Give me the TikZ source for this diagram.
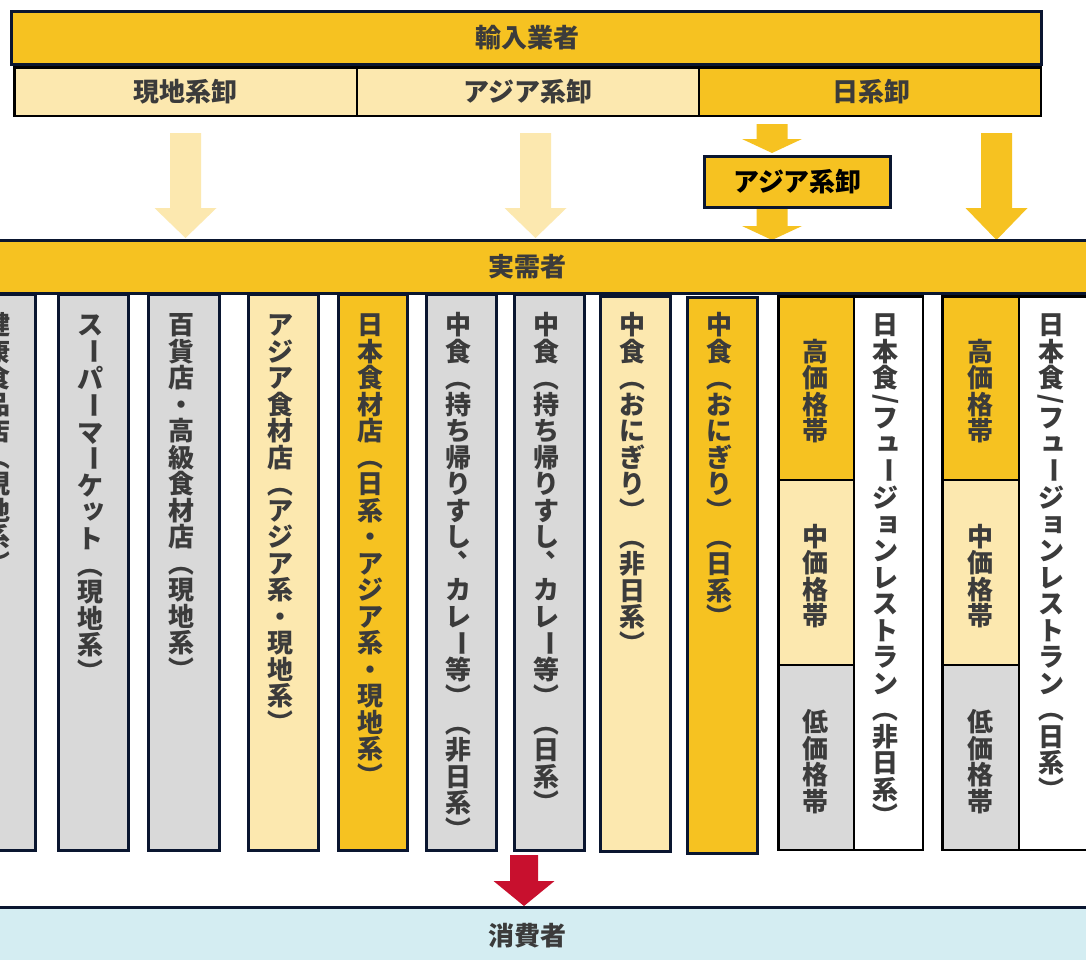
\documentclass[tikz,border=0pt]{standalone}
\usepackage{fontspec}
\usepackage{graphicx}
\newfontfamily\jp{Noto Sans CJK JP}
\usetikzlibrary{calc}
\definecolor{gold}{HTML}{F6C221}
\definecolor{lightgold}{HTML}{FCE8AF}
\definecolor{cgray}{HTML}{D9D9D9}
\definecolor{navy}{HTML}{0A1630}
\definecolor{txt}{HTML}{3B3B3B}
\definecolor{cred}{HTML}{C8102E}
\definecolor{lblue}{HTML}{D4EDF2}
\newcommand\jpf{\jp\bfseries\fontsize{26pt}{30pt}\selectfont}
\makeatletter
\newcommand\vt[1]{\vbox{\offinterlineskip\vt@a#1\relax}}
\def\vt@a#1{\ifx#1\relax\else\vt@one#1\expandafter\vt@a\fi}
\def\vt@strut{\vrule height 22.8pt depth 3.7pt width 0pt}
\def\vt@one#1{%
  \ifx#1/%
    \setbox0=\hbox to 26pt{\hss\rotatebox[origin=c]{-90}{/}\hss}\ht0=16.2pt \dp0=-2.95pt \box0\relax
  \else
    \hbox to 26pt{\vt@strut\hss\vt@g#1\hss}%
  \fi}
\def\vt@small#1{\rlap{\hskip0.1em\raisebox{0.12em}{#1}}\hskip1em\relax}
\def\vt@g#1{%
  \ifx#1ー\raisebox{0.16em}{\rotatebox[origin=c]{-90}{ー}}%
  \else\ifx#1（\rotatebox[origin=c]{-90}{（}%
  \else\ifx#1）\rotatebox[origin=c]{-90}{）}%
  \else\ifx#1、\rlap{\hskip0.45em\raisebox{0.6em}{、}}\hskip1em\relax
  \else\ifx#1ッ\vt@small{ッ}%
  \else\ifx#1ュ\vt@small{ュ}%
  \else\ifx#1ョ\vt@small{ョ}%
  \else#1\fi\fi\fi\fi\fi\fi\fi}
\makeatother
% rectangle node from corner (x1,y1) to (x2,y2)
\newcommand\rnode[6]{\node[#2, minimum width={#5-(#3)}, minimum height={#6-(#4)}] (#1) at ({(#3+#5)/2},{(#4+#6)/2}) {};}
% block arrow: name, x centre, y top, y head, y tip, shaft half, head half, colour
\newcommand\barrow[8]{%
  \coordinate (#1-top) at (#2,#3);
  \coordinate (#1-tip) at (#2,#5);
  \fill[#8] ($(#1-top)+(-#6,0)$) -- ($(#1-top)+(#6,0)$) -- (#2+#6,#4) -- (#2+#7,#4) -- (#1-tip) -- (#2-#7,#4) -- (#2-#6,#4) -- cycle;}
\begin{document}
\begin{tikzpicture}[x=1pt,y=-1pt,
  every node/.style={inner sep=0pt, outer sep=0pt},
  hbar/.style={draw=navy, line width=3pt, fill=gold},
  cell/.style={draw=black, line width=2.5pt},
  colbox/.style={draw=navy, line width=3pt},
  lbl/.style={text=txt, font=\jpf},
]
\clip (0,0) rectangle (1086,959);
\fill[white] (0,0) rectangle (1086,959);

% importer bar and wholesalers
\rnode{imp}{hbar}{11.5}{11.5}{1041.5}{64.5}
\node[lbl] (impT) at (527,38) {輸入業者};
\rnode{w1}{cell, fill=lightgold}{14.25}{67.25}{357}{115.75}
\rnode{w2}{cell, fill=lightgold}{357}{67.25}{699}{115.75}
\rnode{w3}{cell, fill=gold}{699}{67.25}{1040.75}{115.75}
\node[lbl] (w1T) at (185.5,92) {現地系卸};
\node[lbl] (w2T) at (528,92) {アジア系卸};
\node[lbl] (w3T) at (871,92) {日系卸};

% arrows to demand
\barrow{a1}{185.5}{133}{208}{238}{15.5}{31}{lightgold}
\barrow{a2}{535.5}{133}{208}{238}{15.5}{31}{lightgold}
\barrow{a3}{772}{124}{139}{153}{15.5}{30}{gold}
\rnode{asia}{draw=navy, line width=3pt, fill=gold}{704.5}{156.5}{890.5}{207.5}
\node[text=black, font=\jpf] (asiaT) at (797.5,182) {アジア系卸};
\barrow{a4}{772}{209}{226}{240}{15.5}{30}{gold}
\barrow{a5}{996.5}{133}{208}{240}{15.5}{31}{gold}

% actual demand bar
\rnode{dem}{hbar}{-20}{240.5}{1110}{293.5}
\node[lbl] (demT) at (527,267) {実需者};

% columns
\rnode{c1}{colbox, fill=cgray}{-40}{294.5}{35.5}{850.5}
\rnode{c2}{colbox, fill=cgray}{58.5}{294.5}{128.5}{850.5}
\rnode{c3}{colbox, fill=cgray}{148.5}{294.5}{219.5}{850.5}
\rnode{c4}{colbox, fill=lightgold}{248.5}{294.5}{318.5}{850.5}
\rnode{c5}{colbox, fill=gold}{338.5}{294.5}{407.5}{850.5}
\rnode{c6}{colbox, fill=cgray}{426.5}{294.5}{496.5}{850.5}
\rnode{c7}{colbox, fill=cgray}{514.5}{294.5}{584.5}{850.5}
\rnode{c8}{colbox, fill=lightgold}{600.5}{296}{670.5}{851.5}
\rnode{c9}{colbox, fill=gold}{687.5}{297}{757.5}{853.5}
\rnode{p1h}{cell, fill=gold}{778.25}{296.25}{854}{480}
\rnode{p1m}{cell, fill=lightgold}{778.25}{480}{854}{665}
\rnode{p1l}{cell, fill=cgray}{778.25}{665}{854}{849.75}
\rnode{c11}{cell, fill=white}{854}{296.25}{922.75}{849.75}
\rnode{p2h}{cell, fill=gold}{942.25}{296.25}{1019}{480}
\rnode{p2m}{cell, fill=lightgold}{942.25}{480}{1019}{665}
\rnode{p2l}{cell, fill=cgray}{942.25}{665}{1019}{849.75}
\rnode{c13}{cell, fill=white}{1019}{296.25}{1110}{849.75}

\node[lbl, anchor=north] (t1) at (-2.5,312) {\vt{健康食品店（現地系）}};
\node[lbl, anchor=north] (t2) at (90.5,312) {\vt{スーパーマーケット（現地系）}};
\node[lbl, anchor=north] (t3) at (181,312) {\vt{百貨店・高級食材店（現地系）}};
\node[lbl, anchor=north] (t4) at (280.5,312) {\vt{アジア食材店（アジア系・現地系）}};
\node[lbl, anchor=north] (t5) at (370,312) {\vt{日本食材店（日系・アジア系・現地系）}};
\node[lbl, anchor=north] (t6) at (458.5,312) {\vt{中食（持ち帰りすし、カレー等）（非日系）}};
\node[lbl, anchor=north] (t7) at (546.5,312) {\vt{中食（持ち帰りすし、カレー等）（日系）}};
\node[lbl, anchor=north] (t8) at (632.5,312) {\vt{中食（おにぎり）（非日系）}};
\node[lbl, anchor=north] (t9) at (719.5,312) {\vt{中食（おにぎり）（日系）}};
\node[lbl, anchor=north] (t11) at (885.5,312) {\vt{日本食/フュージョンレストラン（非日系）}};
\node[lbl, anchor=north] (t13) at (1051,312) {\vt{日本食/フュージョンレストラン（日系）}};
\node[lbl] (p1hT) at (815.5,391.5) {\vt{高価格帯}};
\node[lbl] (p1mT) at (815.5,576.5) {\vt{中価格帯}};
\node[lbl] (p1lT) at (815.5,762) {\vt{低価格帯}};
\node[lbl] (p2hT) at (980,391.5) {\vt{高価格帯}};
\node[lbl] (p2mT) at (980,576.5) {\vt{中価格帯}};
\node[lbl] (p2lT) at (980,762) {\vt{低価格帯}};

% consumers
\rnode{con}{draw=navy, line width=3pt, fill=lblue}{-20}{907.5}{1110}{980}
\node[lbl] (conT) at (527.5,936) {消費者};
\barrow{a6}{524}{855}{881}{906}{14}{30.5}{cred}
\end{tikzpicture}
\end{document}
